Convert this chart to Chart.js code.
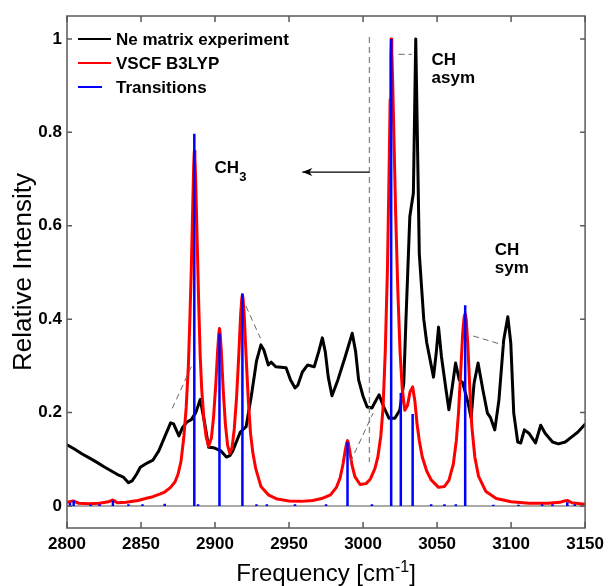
<!DOCTYPE html>
<html><head><meta charset="utf-8">
<script src="https://cdn.jsdelivr.net/npm/chart.js@4.4.1/dist/chart.umd.min.js"></script>
<style>html,body{margin:0;padding:0;background:#fff}canvas{display:block}</style>
</head><body>
<canvas id="c" width="610" height="586"></canvas>
<script>
// ---- tick labels ----
const xTicks = [2800, 2850, 2900, 2950, 3000, 3050, 3100, 3150];
const yTicks = [0, 0.2, 0.4, 0.6, 0.8, 1];
const yTickLabels = ['0', '0.2', '0.4', '0.6', '0.8', '1'];

// ---- series: Ne matrix experiment ----
const expX = [2800,2805,2810,2815,2820,2825,2830,2835,2838,2841.5,2844,2847,2849.5,2853,2856,2858,2862,2866,2870,2872,2875.6,2878,2881,2884,2887,2890,2893,2895.7,2899,2904,2907.7,2910,2912,2917,2921,2924.5,2928,2931,2933,2936,2938,2941,2948,2951,2954,2956,2959,2962.6,2967,2970,2972.5,2974.5,2976.5,2979,2983,2988,2992.7,2995,2997,3000,3002.8,3006,3008.5,3010.8,3014,3017.5,3021.5,3024.8,3027.5,3029,3031.6,3034,3035.6,3038,3041,3043,3047.6,3049.5,3051,3053,3056,3058,3060.5,3062.5,3065,3067.3,3071,3073,3075,3077.7,3081,3084,3086,3089,3091.8,3095,3097.8,3099.8,3101.8,3104.5,3106.5,3109,3112,3116.5,3120,3123,3128,3132,3136.6,3141,3145,3150];
const expY = [0.131,0.122,0.112,0.103,0.094,0.084,0.075,0.066,0.062,0.050,0.054,0.068,0.083,0.090,0.095,0.098,0.118,0.148,0.178,0.176,0.150,0.168,0.180,0.185,0.200,0.228,0.178,0.126,0.125,0.118,0.105,0.108,0.118,0.158,0.170,0.235,0.310,0.345,0.334,0.302,0.308,0.298,0.296,0.270,0.253,0.259,0.287,0.302,0.298,0.330,0.360,0.330,0.276,0.236,0.270,0.320,0.370,0.330,0.270,0.235,0.212,0.210,0.225,0.238,0.212,0.188,0.188,0.205,0.263,0.400,0.620,0.670,1.000,0.540,0.400,0.350,0.276,0.330,0.383,0.319,0.250,0.206,0.260,0.306,0.270,0.264,0.220,0.188,0.263,0.306,0.248,0.199,0.190,0.163,0.227,0.355,0.405,0.349,0.199,0.137,0.135,0.163,0.156,0.135,0.173,0.156,0.137,0.133,0.137,0.148,0.158,0.175];

// ---- series: VSCF B3LYP ----
const vscfX = [2800,2804,2808,2815,2822,2828,2831,2834,2840,2848,2853,2858,2863,2866,2870,2873,2875,2877,2879,2880.5,2882,2883,2884,2885,2885.6,2886,2886.4,2887,2888,2889,2890,2891,2892.5,2894,2895.7,2897.5,2899,2900.5,2901.8,2902.6,2903,2903.4,2904.2,2905.5,2907,2908.5,2910,2911.5,2913,2914.5,2916,2917.3,2918.1,2918.5,2918.9,2919.7,2921,2922.5,2924,2925.5,2927.5,2931,2936,2942,2950,2958,2966,2972,2978,2982,2984.5,2986.5,2988,2989,2989.5,2990,2991,2992.5,2994.5,2998,3002,3005,3008,3010,3012,3013.5,3015,3016.5,3017.5,3018.3,3018.7,3019,3019.4,3020,3021,3022,3023.5,3025,3026.5,3028.2,3030,3031.8,3033.5,3035,3036.5,3038,3040,3043,3046,3051,3055,3058,3061,3063,3064.5,3066,3067.3,3068.3,3069,3069.7,3070.7,3072,3073.5,3075.5,3078,3083,3090,3100,3112,3125,3133,3136,3138,3141,3150];
const vscfY = [0.008,0.011,0.006,0.005,0.006,0.009,0.013,0.007,0.008,0.012,0.016,0.020,0.026,0.030,0.040,0.052,0.068,0.095,0.150,0.210,0.300,0.400,0.510,0.650,0.730,0.760,0.745,0.690,0.560,0.430,0.320,0.250,0.185,0.148,0.128,0.145,0.190,0.260,0.335,0.370,0.380,0.372,0.335,0.250,0.175,0.130,0.113,0.125,0.165,0.230,0.320,0.410,0.445,0.452,0.445,0.410,0.320,0.225,0.155,0.115,0.080,0.042,0.024,0.015,0.011,0.010,0.012,0.016,0.024,0.040,0.060,0.090,0.120,0.136,0.140,0.136,0.118,0.088,0.063,0.046,0.048,0.058,0.080,0.105,0.150,0.210,0.330,0.510,0.700,0.870,0.960,1.000,0.975,0.910,0.770,0.630,0.460,0.330,0.250,0.205,0.215,0.245,0.255,0.225,0.175,0.140,0.105,0.075,0.056,0.040,0.042,0.055,0.090,0.140,0.200,0.290,0.370,0.405,0.412,0.400,0.350,0.260,0.170,0.105,0.064,0.031,0.016,0.009,0.006,0.006,0.008,0.011,0.012,0.007,0.004];

// ---- series: Transitions ----
const transX = [2802,2804.5,2816,2822,2831,2841.5,2851,2866,2886,2888.5,2903,2918.5,2928,2935,2954,2975,2989.5,3006,3019,3025.5,3033.5,3046,3055,3062.7,3069,3088,3105,3121,3128,3138,3143];
const transH = [0.007,0.012,0.004,0.004,0.012,0.004,0.004,0.005,0.797,0.004,0.370,0.455,0.004,0.004,0.004,0.004,0.137,0.004,1.000,0.242,0.197,0.004,0.004,0.004,0.430,0.003,0.003,0.004,0.004,0.008,0.004];

const seriesNames = ['Ne matrix experiment', 'VSCF B3LYP', 'Transitions'];
const seriesColors = ['#000000', '#ff0000', '#0000ff'];

// ---- annotations (data coordinates) ----
const connectors = [
  [2871.1, 0.209, 2884.5, 0.302],
  [2920.9, 0.428, 2930.7, 0.359],
  [2991.4, 0.094, 3006.8, 0.199],
  [3074.4, 0.364, 3094.5, 0.345],
  [3024.0, 0.967, 3033.0, 0.967]
];
const guideLine = [3004.3, 1.004, 3004.3, 0.094];
const arrowLine = [3004.3, 0.715, 2959.0, 0.715];
const labels = [
  {text: 'CH', x: 2899.7, y: 0.713, sub: '3'},
  {text: 'CH', x: 3046.3, y: 0.944},
  {text: 'asym', x: 3046.3, y: 0.905},
  {text: 'CH', x: 3089.0, y: 0.537},
  {text: 'sym', x: 3089.0, y: 0.499}
];

const FONT = "'Liberation Sans', Arial, sans-serif";

const pts = (xs, ys) => xs.map((v, i) => ({x: v, y: ys[i]}));
const stems = [];
transX.forEach((v, i) => { stems.push({x: v, y: 0}, {x: v, y: transH[i]}, {x: v, y: null}); });
const baseline = [{x: xTicks[0], y: 0}, {x: xTicks[xTicks.length - 1], y: 0}];

const deco = {
  id: 'deco',
  afterDatasetsDraw(chart) {
    const {ctx, chartArea: a, scales: {x, y}} = chart;
    const px = v => x.getPixelForValue(v), py = v => y.getPixelForValue(v);
    ctx.save();
    // frame + inward ticks
    ctx.strokeStyle = '#5a5a5a'; ctx.lineWidth = 1.5; ctx.setLineDash([]);
    ctx.strokeRect(a.left, a.top, a.right - a.left, a.bottom - a.top);
    ctx.beginPath();
    xTicks.forEach(v => { const p = px(v); ctx.moveTo(p, a.bottom); ctx.lineTo(p, a.bottom - 6); ctx.moveTo(p, a.top); ctx.lineTo(p, a.top + 6); });
    yTicks.forEach(v => { const p = py(v); ctx.moveTo(a.left, p); ctx.lineTo(a.left + 5, p); ctx.moveTo(a.right, p); ctx.lineTo(a.right - 5, p); });
    ctx.stroke();
    // connectors
    ctx.strokeStyle = '#666'; ctx.lineWidth = 1; ctx.setLineDash([6, 4]);
    connectors.forEach(c => { ctx.beginPath(); ctx.moveTo(px(c[0]), py(c[1])); ctx.lineTo(px(c[2]), py(c[3])); ctx.stroke(); });
    // vertical guide
    ctx.strokeStyle = '#888'; ctx.lineWidth = 1.3; ctx.setLineDash([6, 4]);
    ctx.beginPath(); ctx.moveTo(px(guideLine[0]), py(guideLine[1])); ctx.lineTo(px(guideLine[2]), py(guideLine[3])); ctx.stroke();
    // arrow
    ctx.setLineDash([]); ctx.strokeStyle = '#000'; ctx.lineWidth = 1.2;
    const ax1 = px(arrowLine[0]), ay = py(arrowLine[1]), ax2 = px(arrowLine[2]);
    ctx.beginPath(); ctx.moveTo(ax1, ay); ctx.lineTo(ax2, ay); ctx.stroke();
    ctx.fillStyle = '#000';
    ctx.beginPath(); ctx.moveTo(ax2, ay); ctx.lineTo(ax2 + 10, ay - 4); ctx.lineTo(ax2 + 7, ay); ctx.lineTo(ax2 + 10, ay + 4); ctx.closePath(); ctx.fill();
    // text labels
    ctx.fillStyle = '#000'; ctx.textBaseline = 'alphabetic'; ctx.textAlign = 'left';
    labels.forEach(l => {
      ctx.font = 'bold 17px ' + FONT;
      const X = px(l.x), Y = py(l.y);
      ctx.fillText(l.text, X, Y);
      if (l.sub) {
        const w = ctx.measureText(l.text).width;
        ctx.font = 'bold 13px ' + FONT;
        ctx.fillText(l.sub, X + w, Y + 8);
      }
    });
    // legend
    const lx = a.left + 11, lt = a.top + 23;
    ctx.font = 'bold 17px ' + FONT; ctx.textBaseline = 'middle';
    seriesNames.forEach((n, i) => {
      const yy = lt + i * 24;
      ctx.strokeStyle = seriesColors[i]; ctx.lineWidth = 2;
      ctx.beginPath(); ctx.moveTo(lx, yy); ctx.lineTo(lx + (i === 2 ? 24 : 33), yy); ctx.stroke();
      ctx.fillStyle = '#000'; ctx.fillText(n, lx + 38, yy + 1);
    });
    ctx.restore();
  },
  afterDraw(chart) {
    const {ctx, chartArea: a} = chart;
    ctx.save();
    ctx.fillStyle = '#000';
    // x title with superscript
    const p1 = 'Frequency [cm', sup = '-1', p2 = ']';
    ctx.font = '24px ' + FONT; const w1 = ctx.measureText(p1).width, w3 = ctx.measureText(p2).width;
    ctx.font = '16px ' + FONT; const w2 = ctx.measureText(sup).width;
    let sx = (a.left + a.right) / 2 - (w1 + w2 + w3) / 2;
    const by = 581;
    ctx.textBaseline = 'alphabetic'; ctx.textAlign = 'left';
    ctx.font = '24px ' + FONT; ctx.fillText(p1, sx, by);
    ctx.font = '16px ' + FONT; ctx.fillText(sup, sx + w1, by - 9);
    ctx.font = '24px ' + FONT; ctx.fillText(p2, sx + w1 + w2, by);
    // y title
    ctx.translate(24, (a.top + a.bottom) / 2);
    ctx.rotate(-Math.PI / 2);
    ctx.textAlign = 'center'; ctx.textBaseline = 'middle';
    ctx.font = '26px ' + FONT;
    ctx.fillText('Relative Intensity', 0, 0);
    ctx.restore();
  }
};

new Chart(document.getElementById('c'), {
  type: 'line',
  data: {
    datasets: [
      {label: 'zero', data: baseline, borderColor: '#8c8c8c', borderWidth: 1.5, pointRadius: 0, order: 4},
      {label: seriesNames[0], data: pts(expX, expY), borderColor: seriesColors[0], backgroundColor: seriesColors[0], borderWidth: 3, borderJoinStyle: 'round', borderCapStyle: 'round', pointRadius: 0, tension: 0, order: 3},
      {label: seriesNames[1], data: pts(vscfX, vscfY), borderColor: seriesColors[1], backgroundColor: seriesColors[1], borderWidth: 3, borderJoinStyle: 'round', borderCapStyle: 'round', pointRadius: 0, tension: 0, order: 2},
      {label: seriesNames[2], data: stems, borderColor: seriesColors[2], backgroundColor: seriesColors[2], borderWidth: 2.5, pointRadius: 0, spanGaps: false, order: 1}
    ]
  },
  options: {
    responsive: false, animation: false, devicePixelRatio: 1,
    layout: {padding: {top: 16, right: 21, left: 0, bottom: 0}},
    plugins: {legend: {display: false}, tooltip: {enabled: false}},
    scales: {
      x: {
        type: 'linear', min: 2800, max: 3150,
        afterBuildTicks: s => { s.ticks = xTicks.map(v => ({value: v})); },
        afterFit: s => { s.height = 58; },
        grid: {drawOnChartArea: false, drawTicks: false},
        border: {display: false},
        ticks: {font: {family: FONT, size: 17, weight: 'bold'}, color: '#000', padding: 6, maxRotation: 0, callback: v => String(v)}
      },
      y: {
        type: 'linear', min: -0.047, max: 1.049,
        afterBuildTicks: s => { s.ticks = yTicks.map(v => ({value: v})); },
        afterFit: s => { s.width = 67; },
        grid: {drawOnChartArea: false, drawTicks: false},
        border: {display: false},
        ticks: {font: {family: FONT, size: 17, weight: 'bold'}, color: '#000', padding: 5, callback: (v, i) => yTickLabels[i]}
      }
    }
  },
  plugins: [deco]
});
</script>
</body></html>
